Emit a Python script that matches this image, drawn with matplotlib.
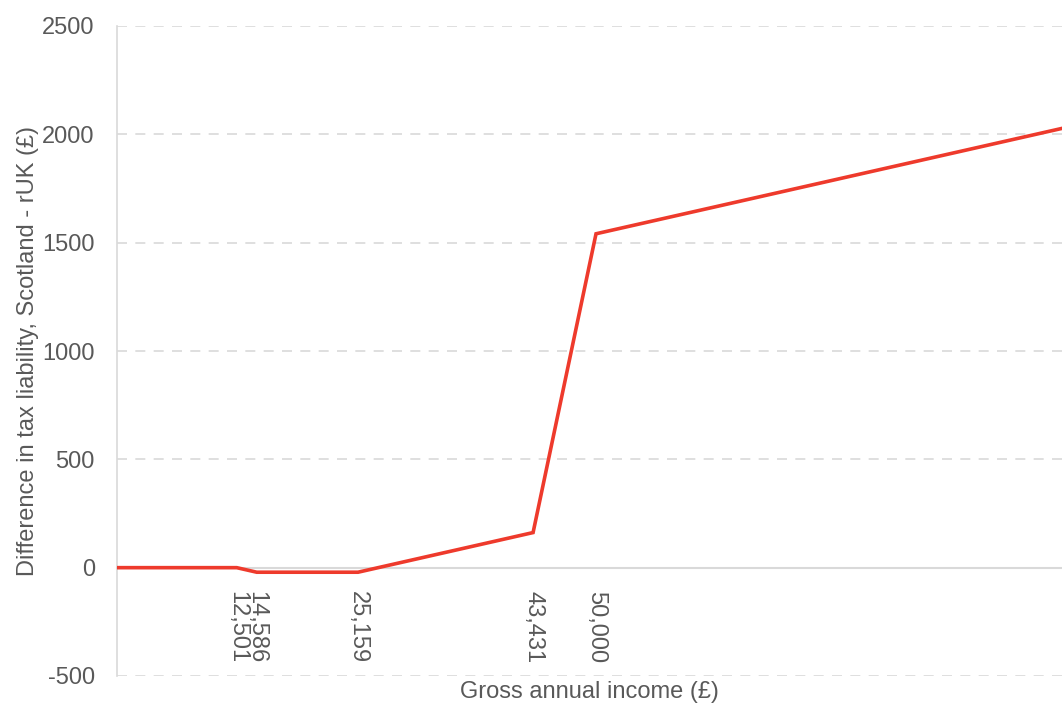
from matplotlib import pyplot as plt

plt.rcParams['font.family'] = ['Liberation Sans', 'DejaVu Sans']
plt.rcParams['axes.unicode_minus'] = False

# Gross annual income (£) and tax difference Scotland - rUK (£)
income = [0, 12501, 14586, 25159, 43431, 50000, 100000]
difference = [0, 0, -21, -21, 162, 1541, 2041]

tick_income = [12501, 14586, 25159, 43431, 50000]
tick_labels = ['12,501', '14,586', '25,159', '43,431', '50,000']

textcolor = '#595959'
gridcolor = '#d9d9d9'

fig = plt.figure(figsize=(10.62, 7.04), dpi=100)
ax = fig.add_axes([117/1062, 28/704, 945/1062, 650/704])

ax.plot(income, difference, color='#ee3a2c', linewidth=2.6, solid_joinstyle='miter', zorder=3)

ax.set_xlim(0, 98640)
ax.set_ylim(-500, 2500)
ax.set_yticks(range(-500, 2501, 500))

ax.grid(axis='y', linestyle=(0, (6, 5)), color=gridcolor, linewidth=1.2)
ax.set_axisbelow(True)

for s in ['top', 'right']:
    ax.spines[s].set_visible(False)
ax.spines['left'].set_color(gridcolor)
ax.spines['left'].set_linewidth(1.2)
ax.spines['bottom'].set_position(('data', 0))
ax.spines['bottom'].set_color(gridcolor)
ax.spines['bottom'].set_linewidth(1.5)

ax.set_xticks(tick_income)
ax.set_xticklabels(tick_labels, rotation=-90, va='top', ha='center')
ax.tick_params(axis='x', length=0, pad=17, labelsize=17, labelcolor=textcolor)
ax.tick_params(axis='y', length=0, pad=16, labelsize=17, labelcolor=textcolor)

ax.text(0.5, -0.025, 'Gross annual income (£)', transform=ax.transAxes,
        ha='center', va='center', fontsize=17, color=textcolor)
ax.text(-0.094, 0.5, 'Difference in tax liability, Scotland - rUK (£)', transform=ax.transAxes,
        rotation=90, ha='center', va='center', fontsize=17, color=textcolor)

plt.savefig('out.png', dpi=100)
